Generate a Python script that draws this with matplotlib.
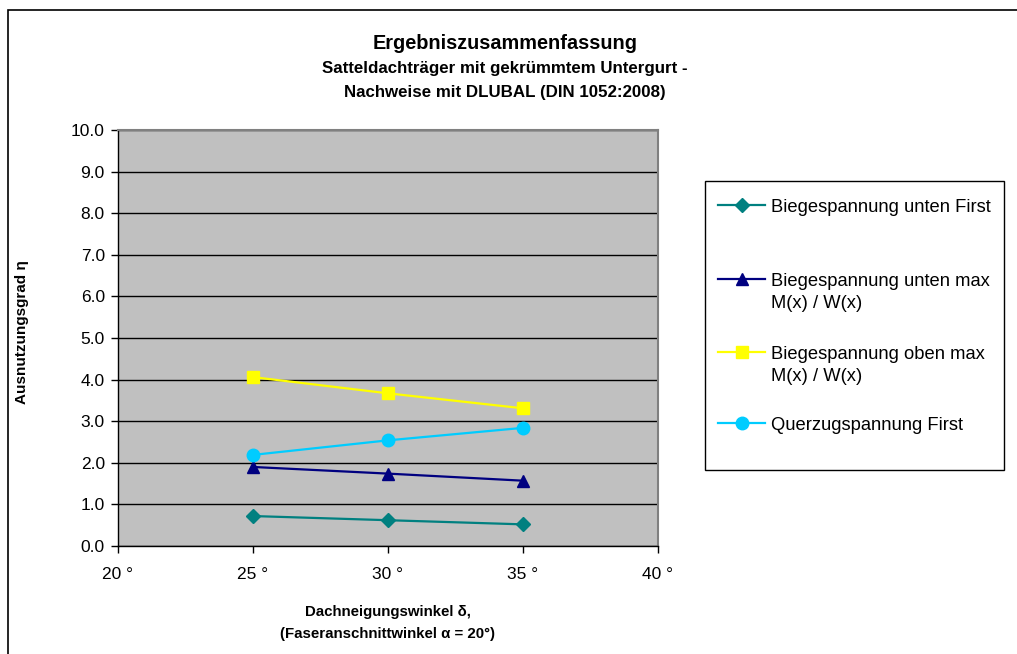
import matplotlib
matplotlib.use("Agg")
import matplotlib.pyplot as plt
from matplotlib.lines import Line2D
from matplotlib.patches import Rectangle

plt.rcParams['font.family'] = ['Liberation Sans', 'DejaVu Sans']

# ---- data ----
angles = [25, 30, 35]
series_labels = [
    "Biegespannung unten First",
    "Biegespannung unten max\nM(x) / W(x)",
    "Biegespannung oben max\nM(x) / W(x)",
    "Querzugspannung First",
]
unten_first = [0.72, 0.62, 0.52]
unten_max = [1.90, 1.74, 1.57]
oben_max = [4.06, 3.67, 3.31]
querzug_first = [2.19, 2.54, 2.84]
x_ticks = [20, 25, 30, 35, 40]
x_tick_labels = ["20 °", "25 °", "30 °", "35 °", "40 °"]
y_ticks = [0, 1, 2, 3, 4, 5, 6, 7, 8, 9, 10]

series = [unten_first, unten_max, oben_max, querzug_first]
colors = ["#008080", "#000080", "#FFFF00", "#00CCFF"]
markers = ["D", "^", "s", "o"]
msizes = [7.5, 9, 9, 9]

W, H = 1017, 654
fig = plt.figure(figsize=(W / 100, H / 100), dpi=100)

def fx(px):
    return px / W

def fy(py):
    return 1 - py / H

# outer chart border
fig.patches.append(Rectangle((fx(8), fy(700)), fx(1100), fy(10) - fy(700),
                             transform=fig.transFigure, fill=False,
                             edgecolor="black", linewidth=1.2))

ax = fig.add_axes([fx(118), fy(546), fx(658) - fx(118), fy(130) - fy(546)])
ax.set_facecolor("#C0C0C0")
ax.set_xlim(20, 40)
ax.set_ylim(0, 10)
ax.set_xticks(x_ticks)
ax.set_xticklabels(x_tick_labels)
ax.set_yticks(y_ticks)
ax.set_yticklabels([f"{v:.1f}" for v in y_ticks])
ax.tick_params(axis="both", labelsize=12.5, direction="out", length=5, width=1, colors="black")
ax.tick_params(axis="x", pad=10)
ax.tick_params(axis="y", pad=4.5)
ax.grid(axis="y", color="black", linewidth=1)
ax.set_axisbelow(True)
for s in ["top", "right"]:
    ax.spines[s].set_color("#808080")
    ax.spines[s].set_linewidth(1.5)
for s in ["left", "bottom"]:
    ax.spines[s].set_color("black")
    ax.spines[s].set_linewidth(1)

for vals, c, m, ms in zip(series, colors, markers, msizes):
    ax.plot(angles, vals, color=c, marker=m, markersize=ms, linewidth=1.6,
            markeredgecolor=c, markerfacecolor=c, clip_on=False, zorder=3)

# titles
fig.text(fx(505), fy(49), "Ergebniszusammenfassung", ha="center", va="baseline",
         fontsize=14.3, fontweight="bold")
fig.text(fx(505), fy(72.5), "Satteldachträger mit gekrümmtem Untergurt -", ha="center",
         va="baseline", fontsize=12.2, fontweight="bold")
fig.text(fx(505), fy(96.5), "Nachweise mit DLUBAL (DIN 1052:2008)", ha="center",
         va="baseline", fontsize=12.2, fontweight="bold")

# axis labels
fig.text(fx(22), fy(332), "Ausnutzungsgrad η", rotation=90, ha="center", va="center",
         fontsize=11, fontweight="bold")
fig.text(fx(388), fy(612), "Dachneigungswinkel δ,", ha="center", va="center",
         fontsize=10.8, fontweight="bold")
fig.text(fx(388), fy(634), "(Faseranschnittwinkel α = 20°)", ha="center", va="center",
         fontsize=10.8, fontweight="bold")

# legend box
fig.patches.append(Rectangle((fx(705), fy(470)), fx(1004) - fx(705), fy(181) - fy(470),
                             transform=fig.transFigure, facecolor="white",
                             edgecolor="black", linewidth=1))
leg_y = [205, 279, 352, 423]
for lbl, c, m, ms, yy in zip(series_labels, colors, markers, msizes, leg_y):
    fig.lines.append(Line2D([fx(718), fx(765)], [fy(yy), fy(yy)], transform=fig.transFigure,
                            color=c, linewidth=1.6))
    fig.lines.append(Line2D([fx(741.5)], [fy(yy)], transform=fig.transFigure,
                            color=c, marker=m, markersize=ms, markeredgecolor=c,
                            markerfacecolor=c, linestyle="none"))
    for i, part in enumerate(lbl.split("\n")):
        fig.text(fx(771), fy(yy + 7 + 22 * i), part, ha="left", va="baseline",
                 fontsize=13.2)

fig.savefig("out.png", dpi=100)
